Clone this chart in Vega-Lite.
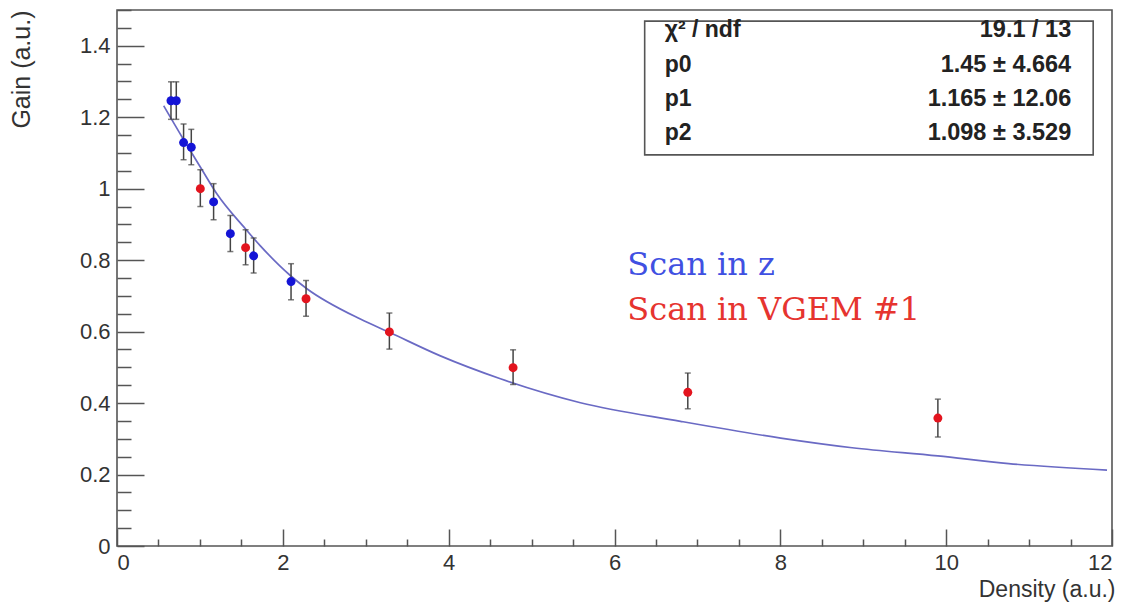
{
  "$schema": "https://vega.github.io/schema/vega-lite/v6.json",
  "width": 995,
  "height": 536,
  "autosize": {"type": "none"},
  "padding": {"left": 117, "top": 10, "right": 21, "bottom": 56},
  "background": "white",
  "config": {
    "view": {"stroke": "#555555", "strokeWidth": 1.6},
    "font": "Liberation Sans",
    "axis": {
      "domain": false,
      "grid": false,
      "labelFont": "Liberation Sans",
      "labelFontSize": 22,
      "labelColor": "#333333",
      "titleFont": "Liberation Sans",
      "titleFontSize": 23,
      "titleFontWeight": "normal",
      "titleColor": "#333333",
      "tickColor": "#555555",
      "tickWidth": 1.5,
      "labelOverlap": false
    }
  },
  "datasets": {
    "points": [
      {"density": 0.651, "gain": 1.246, "lo": 1.194, "hi": 1.299, "scan": "z"},
      {"density": 0.715, "gain": 1.246, "lo": 1.194, "hi": 1.299, "scan": "z"},
      {"density": 0.803, "gain": 1.129, "lo": 1.081, "hi": 1.181, "scan": "z"},
      {"density": 0.896, "gain": 1.116, "lo": 1.067, "hi": 1.166, "scan": "z"},
      {"density": 1.005, "gain": 1.0, "lo": 0.95, "hi": 1.053, "scan": "VGEM"},
      {"density": 1.165, "gain": 0.963, "lo": 0.913, "hi": 1.014, "scan": "z"},
      {"density": 1.367, "gain": 0.874, "lo": 0.824, "hi": 0.925, "scan": "z"},
      {"density": 1.551, "gain": 0.835, "lo": 0.787, "hi": 0.885, "scan": "VGEM"},
      {"density": 1.648, "gain": 0.812, "lo": 0.764, "hi": 0.862, "scan": "z"},
      {"density": 2.099, "gain": 0.74, "lo": 0.689, "hi": 0.79, "scan": "z"},
      {"density": 2.28, "gain": 0.692, "lo": 0.643, "hi": 0.743, "scan": "VGEM"},
      {"density": 3.285, "gain": 0.599, "lo": 0.551, "hi": 0.652, "scan": "VGEM"},
      {"density": 4.777, "gain": 0.499, "lo": 0.452, "hi": 0.549, "scan": "VGEM"},
      {"density": 6.884, "gain": 0.43, "lo": 0.384, "hi": 0.484, "scan": "VGEM"},
      {"density": 9.9, "gain": 0.358, "lo": 0.305, "hi": 0.411, "scan": "VGEM"}
    ],
    "fit": [
      {"density": 0.563, "gain": 1.232},
      {"density": 0.804, "gain": 1.137},
      {"density": 1.025, "gain": 1.053},
      {"density": 1.206, "gain": 0.985},
      {"density": 1.548, "gain": 0.888},
      {"density": 1.729, "gain": 0.84},
      {"density": 2.09, "gain": 0.757},
      {"density": 2.29, "gain": 0.72},
      {"density": 2.935, "gain": 0.635},
      {"density": 3.285, "gain": 0.598},
      {"density": 3.9, "gain": 0.532},
      {"density": 4.624, "gain": 0.468},
      {"density": 5.589, "gain": 0.401},
      {"density": 6.796, "gain": 0.349},
      {"density": 8.005, "gain": 0.302},
      {"density": 8.866, "gain": 0.275},
      {"density": 9.9, "gain": 0.252},
      {"density": 10.754, "gain": 0.2305},
      {"density": 11.94, "gain": 0.2125}
    ],
    "single": [{}]
  },
  "encoding": {
    "x": {
      "type": "quantitative",
      "scale": {"domain": [0, 12], "nice": false, "zero": false},
      "axis": {
        "title": "Density (a.u.)",
        "titleAnchor": "end",
        "titleAlign": "right",
        "titleBaseline": "alphabetic",
        "titleX": 998,
        "titleY": 50,
        "values": [0, 0.5, 1, 1.5, 2, 2.5, 3, 3.5, 4, 4.5, 5, 5.5, 6, 6.5, 7, 7.5, 8, 8.5, 9, 9.5, 10, 10.5, 11, 11.5, 12],
        "labelExpr": "datum.value % 2 === 0 ? '' + datum.value : ''",
        "tickSize": {"condition": {"test": "datum.value % 2 === 0", "value": -17}, "value": -7},
        "labelPadding": 23
      }
    },
    "y": {
      "type": "quantitative",
      "scale": {"domain": [0, 1.5], "nice": false, "zero": false},
      "axis": {
        "title": "Gain (a.u.)",
        "titleFontSize": 25,
        "titleAnchor": "end",
        "titleAlign": "right",
        "titleAngle": 270,
        "titleBaseline": "alphabetic",
        "titleX": -88,
        "titleY": 0,
        "values": [0, 0.05, 0.1, 0.15, 0.2, 0.25, 0.3, 0.35, 0.4, 0.45, 0.5, 0.55, 0.6, 0.65, 0.7, 0.75, 0.8, 0.85, 0.9, 0.95, 1, 1.05, 1.1, 1.15, 1.2, 1.25, 1.3, 1.35, 1.4, 1.45, 1.5],
        "labelExpr": "abs(datum.value * 5 - round(datum.value * 5)) < 0.001 ? '' + round(datum.value * 10) / 10 : ''",
        "tickSize": {"condition": {"test": "abs(datum.value * 5 - round(datum.value * 5)) < 0.001", "value": -27}, "value": -14},
        "labelPadding": 34
      }
    }
  },
  "layer": [
    {
      "data": {"name": "fit"},
      "mark": {"type": "line", "color": "#6a6ac4", "strokeWidth": 1.7, "interpolate": "monotone"},
      "encoding": {
        "x": {"field": "density", "type": "quantitative"},
        "y": {"field": "gain", "type": "quantitative"}
      }
    },
    {
      "data": {"name": "points"},
      "mark": {"type": "errorbar", "color": "#444444", "thickness": 1.5, "ticks": {"size": 6, "thickness": 1.5, "color": "#444444"}},
      "encoding": {
        "x": {"field": "density", "type": "quantitative"},
        "y": {"field": "lo", "type": "quantitative"},
        "y2": {"field": "hi"}
      }
    },
    {
      "data": {"name": "points"},
      "mark": {"type": "point", "shape": "circle", "filled": true, "opacity": 1, "size": 80},
      "encoding": {
        "x": {"field": "density", "type": "quantitative"},
        "y": {"field": "gain", "type": "quantitative"},
        "color": {
          "field": "scan",
          "type": "nominal",
          "scale": {"domain": ["z", "VGEM"], "range": ["#1414d6", "#e3141e"]},
          "legend": null
        }
      }
    },
    {
      "data": {"name": "single"},
      "mark": {"type": "rect", "fill": "white", "stroke": "#555555", "strokeWidth": 1.6},
      "encoding": {
        "x": {"datum": 6.364},
        "x2": {"datum": 11.773},
        "y": {"datum": 1.469},
        "y2": {"datum": 1.0946}
      }
    },
    {
      "data": {"name": "single"},
      "mark": {"type": "text", "text": "χ² / ndf", "align": "left", "baseline": "alphabetic", "font": "Liberation Sans", "fontWeight": "bold", "fontSize": 23, "color": "#222222"},
      "encoding": {"x": {"datum": 6.606}, "y": {"datum": 1.4237}}
    },
    {
      "data": {"name": "single"},
      "mark": {"type": "text", "text": "p0", "align": "left", "baseline": "alphabetic", "font": "Liberation Sans", "fontWeight": "bold", "fontSize": 23, "color": "#222222"},
      "encoding": {"x": {"datum": 6.606}, "y": {"datum": 1.3275}}
    },
    {
      "data": {"name": "single"},
      "mark": {"type": "text", "text": "p1", "align": "left", "baseline": "alphabetic", "font": "Liberation Sans", "fontWeight": "bold", "fontSize": 23, "color": "#222222"},
      "encoding": {"x": {"datum": 6.606}, "y": {"datum": 1.2316}}
    },
    {
      "data": {"name": "single"},
      "mark": {"type": "text", "text": "p2", "align": "left", "baseline": "alphabetic", "font": "Liberation Sans", "fontWeight": "bold", "fontSize": 23, "color": "#222222"},
      "encoding": {"x": {"datum": 6.606}, "y": {"datum": 1.1365}}
    },
    {
      "data": {"name": "single"},
      "mark": {"type": "text", "text": "19.1 / 13", "align": "right", "baseline": "alphabetic", "font": "Liberation Sans", "fontWeight": "bold", "fontSize": 23.5, "color": "#222222"},
      "encoding": {"x": {"datum": 11.508}, "y": {"datum": 1.4237}}
    },
    {
      "data": {"name": "single"},
      "mark": {"type": "text", "text": "1.45 ± 4.664", "align": "right", "baseline": "alphabetic", "font": "Liberation Sans", "fontWeight": "bold", "fontSize": 23.5, "color": "#222222"},
      "encoding": {"x": {"datum": 11.508}, "y": {"datum": 1.3275}}
    },
    {
      "data": {"name": "single"},
      "mark": {"type": "text", "text": "1.165 ± 12.06", "align": "right", "baseline": "alphabetic", "font": "Liberation Sans", "fontWeight": "bold", "fontSize": 23.5, "color": "#222222"},
      "encoding": {"x": {"datum": 11.508}, "y": {"datum": 1.2316}}
    },
    {
      "data": {"name": "single"},
      "mark": {"type": "text", "text": "1.098 ± 3.529", "align": "right", "baseline": "alphabetic", "font": "Liberation Sans", "fontWeight": "bold", "fontSize": 23.5, "color": "#222222"},
      "encoding": {"x": {"datum": 11.508}, "y": {"datum": 1.1365}}
    },
    {
      "data": {"name": "single"},
      "mark": {"type": "text", "text": "Scan in z", "align": "left", "baseline": "alphabetic", "font": "DejaVu Serif", "fontSize": 32, "color": "#4050e2"},
      "encoding": {"x": {"datum": 6.155}, "y": {"datum": 0.759}}
    },
    {
      "data": {"name": "single"},
      "mark": {"type": "text", "text": "Scan in VGEM #1", "align": "left", "baseline": "alphabetic", "font": "DejaVu Serif", "fontSize": 32, "color": "#e6342f"},
      "encoding": {"x": {"datum": 6.155}, "y": {"datum": 0.633}}
    }
  ]
}
